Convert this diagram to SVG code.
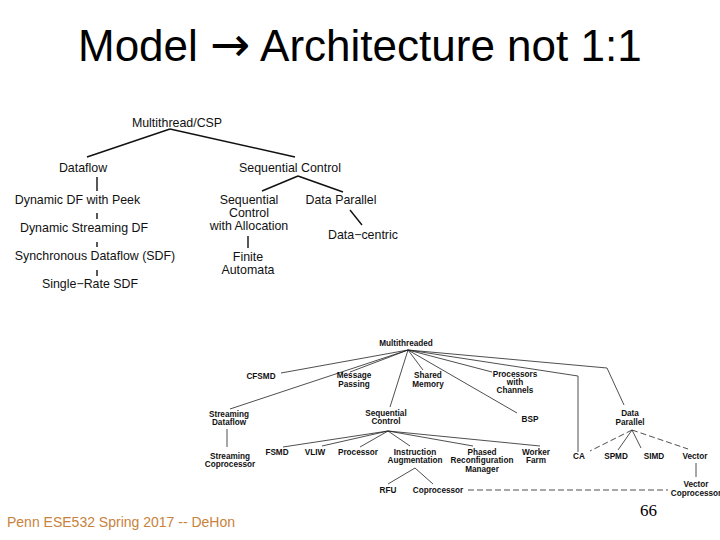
<svg xmlns="http://www.w3.org/2000/svg" width="720" height="540" viewBox="0 0 720 540">
<style>
.title{font-family:"Liberation Sans",Arial,sans-serif;font-size:44px;fill:#000}
.arr{font-family:"DejaVu Sans",sans-serif;font-size:48px}
.u{font-family:"Liberation Sans",Arial,sans-serif;font-size:12.4px;fill:#111;text-anchor:middle}
.l{font-family:"Liberation Sans",Arial,sans-serif;font-size:8.2px;font-weight:bold;fill:#111;text-anchor:middle}
.ue{stroke:#111;stroke-width:1.4;fill:none}
.le{stroke:#222;stroke-width:0.8;fill:none}
.dash{stroke-dasharray:6 3}
.foot{font-family:"Liberation Sans",Arial,sans-serif;font-size:14px;fill:#C8823C}
.num{font-family:"Liberation Serif","Times New Roman",serif;font-size:17px;fill:#000}
</style>
<rect width="720" height="540" fill="#fff"/>
<text class="title" x="78" y="61">Model <tspan class="arr">→</tspan> Architecture not 1:1</text>

<g id="connectors">
  <g id="upper-edges">
    <line class="ue" x1="170" y1="129" x2="87" y2="157"/>
    <line class="ue" x1="170" y1="129" x2="295" y2="157"/>
    <line class="ue" x1="97" y1="177" x2="97" y2="191"/>
    <line class="ue" x1="97" y1="213" x2="97" y2="219"/>
    <line class="ue" x1="97" y1="242" x2="97" y2="247"/>
    <line class="ue" x1="97" y1="270" x2="97" y2="276"/>
    <line class="ue" x1="298" y1="176" x2="262" y2="191"/>
    <line class="ue" x1="298" y1="176" x2="343" y2="192"/>
    <line class="ue" x1="248" y1="236" x2="248" y2="248"/>
    <line class="ue" x1="350" y1="210" x2="362" y2="225"/>
  </g>
  <g id="lower-edges">
    <line class="le" x1="408" y1="350" x2="281" y2="373"/>
    <line class="le" x1="408" y1="350" x2="230" y2="409"/>
    <line class="le" x1="408" y1="350" x2="350" y2="372"/>
    <line class="le" x1="408" y1="350" x2="390" y2="407"/>
    <line class="le" x1="408" y1="350" x2="423" y2="370"/>
    <line class="le" x1="408" y1="350" x2="517" y2="413"/>
    <line class="le" x1="408" y1="350" x2="492" y2="372"/>
    <polyline class="le" points="408,350 578,376 578,452"/>
    <polyline class="le" points="408,350 607,368 624,405"/>
    <line class="le" x1="227" y1="429" x2="227" y2="447"/>
    <line class="le" x1="388" y1="431" x2="283" y2="447"/>
    <line class="le" x1="388" y1="431" x2="322" y2="446"/>
    <line class="le" x1="388" y1="431" x2="360" y2="447"/>
    <line class="le" x1="388" y1="431" x2="410" y2="446"/>
    <line class="le" x1="388" y1="431" x2="473" y2="446"/>
    <line class="le" x1="388" y1="431" x2="540" y2="446"/>
    <line class="le" x1="415" y1="468" x2="388" y2="484"/>
    <line class="le" x1="415" y1="468" x2="433" y2="484"/>
    <line class="le dash" x1="632" y1="430" x2="590" y2="451"/>
    <line class="le" x1="632" y1="430" x2="618" y2="450"/>
    <line class="le" x1="632" y1="430" x2="641" y2="448"/>
    <line class="le dash" x1="632" y1="430" x2="688" y2="449"/>
    <line class="le" x1="696" y1="463" x2="696" y2="477"/>
    <line class="le dash" x1="468" y1="490" x2="668" y2="490"/>
  </g>
</g>

<g id="n-multithread-csp"><text class="u" x="177" y="127">Multithread/CSP</text></g>
<g id="n-dataflow"><text class="u" x="83" y="172">Dataflow</text></g>
<g id="n-sequential-control"><text class="u" x="290" y="172">Sequential Control</text></g>
<g id="n-dynamic-df-peek"><text class="u" x="77.5" y="204">Dynamic DF with Peek</text></g>
<g id="n-dynamic-streaming-df"><text class="u" x="84" y="232">Dynamic Streaming DF</text></g>
<g id="n-sdf"><text class="u" x="95" y="260">Synchronous Dataflow (SDF)</text></g>
<g id="n-single-rate-sdf"><text class="u" x="90" y="288">Single−Rate SDF</text></g>
<g id="n-seq-alloc"><text class="u" x="249" y="204">Sequential</text><text class="u" x="249" y="217">Control</text><text class="u" x="249" y="230">with Allocation</text></g>
<g id="n-finite-automata"><text class="u" x="248" y="261">Finite</text><text class="u" x="248" y="274">Automata</text></g>
<g id="n-data-parallel-u"><text class="u" x="341" y="204">Data Parallel</text></g>
<g id="n-data-centric"><text class="u" x="328" y="239" style="text-anchor:start">Data−centric</text></g>

<g id="m-multithreaded"><text class="l" x="406" y="346">Multithreaded</text></g>
<g id="m-cfsmd"><text class="l" x="261" y="379">CFSMD</text></g>
<g id="m-message-passing"><text class="l" x="354" y="378">Message</text><text class="l" x="354" y="387">Passing</text></g>
<g id="m-shared-memory"><text class="l" x="428" y="378">Shared</text><text class="l" x="428" y="387">Memory</text></g>
<g id="m-processors-channels"><text class="l" x="515" y="377">Processors</text><text class="l" x="515" y="385">with</text><text class="l" x="515" y="393">Channels</text></g>
<g id="m-bsp"><text class="l" x="530" y="422">BSP</text></g>
<g id="m-streaming-dataflow"><text class="l" x="229" y="417">Streaming</text><text class="l" x="229" y="425">Dataflow</text></g>
<g id="m-sequential-control"><text class="l" x="386" y="416">Sequential</text><text class="l" x="386" y="424">Control</text></g>
<g id="m-data-parallel"><text class="l" x="630" y="416">Data</text><text class="l" x="630" y="425">Parallel</text></g>
<g id="m-streaming-coprocessor"><text class="l" x="230" y="459">Streaming</text><text class="l" x="230" y="467">Coprocessor</text></g>
<g id="m-fsmd"><text class="l" x="277" y="454.5">FSMD</text></g>
<g id="m-vliw"><text class="l" x="315" y="454.5">VLIW</text></g>
<g id="m-processor"><text class="l" x="358" y="454.5">Processor</text></g>
<g id="m-instruction-augmentation"><text class="l" x="415" y="454.5">Instruction</text><text class="l" x="415" y="463">Augmentation</text></g>
<g id="m-phased-rm"><text class="l" x="482" y="454.5">Phased</text><text class="l" x="482" y="463">Reconfiguration</text><text class="l" x="482" y="471.5">Manager</text></g>
<g id="m-worker-farm"><text class="l" x="536" y="454.5">Worker</text><text class="l" x="536" y="463">Farm</text></g>
<g id="m-ca"><text class="l" x="579" y="459">CA</text></g>
<g id="m-spmd"><text class="l" x="616" y="459">SPMD</text></g>
<g id="m-simd"><text class="l" x="654" y="459">SIMD</text></g>
<g id="m-vector"><text class="l" x="695" y="459">Vector</text></g>
<g id="m-vector-coprocessor"><text class="l" x="696" y="487">Vector</text><text class="l" x="696" y="496">Coprocessor</text></g>
<g id="m-rfu"><text class="l" x="388" y="493">RFU</text></g>
<g id="m-coprocessor"><text class="l" x="438" y="493">Coprocessor</text></g>

<text class="foot" x="7" y="527">Penn ESE532 Spring 2017 -- DeHon</text>
<text class="num" x="640" y="516">66</text>
</svg>
